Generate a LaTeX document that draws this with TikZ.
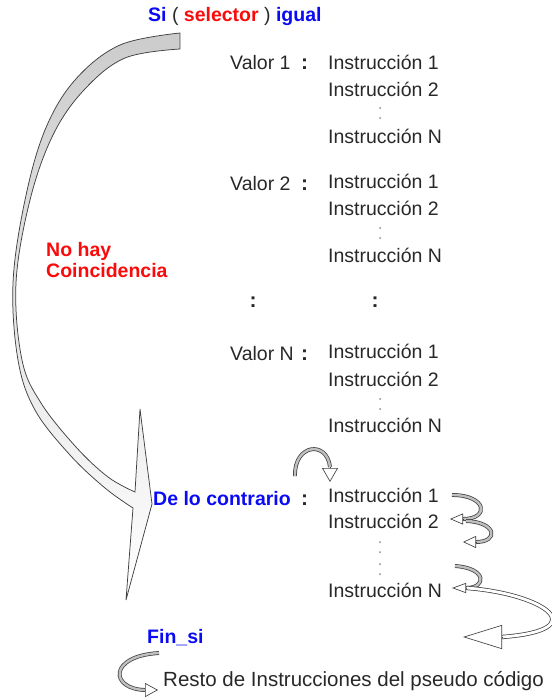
\documentclass[tikz,border=0pt]{standalone}
\usepackage{fontspec}
\setmainfont{Liberation Sans}
\usetikzlibrary{arrows.meta}
\definecolor{tblue}{RGB}{10,10,245}
\definecolor{tred}{RGB}{250,10,10}
\definecolor{ttxt}{RGB}{40,40,40}
\begin{document}
\begin{tikzpicture}[x=1pt,y=-1pt,
  txt/.style={inner sep=0pt, anchor=base west, text=ttxt, font=\fontsize{19.5}{22}\selectfont},
  btxt/.style={inner sep=0pt, anchor=base west, font=\fontsize{19.5}{22}\selectfont\bfseries},
  colon/.style={inner sep=0pt, anchor=base west, text=ttxt, font=\fontsize{21}{22}\selectfont\bfseries},
  bigcolon/.style={inner sep=0pt, text=ttxt, font=\fontsize{21}{22}\selectfont\bfseries},
  tdot/.style={circle, fill=gray!90, inner sep=0pt, minimum size=2pt},
  band/.style={draw=black!75, double=gray!50, line width=0.75pt, double distance=2.4pt},
  wband/.style={draw=black!75, double=white, line width=0.75pt, double distance=2.8pt},
  head/.style n args={2}{line width=0.65pt, draw=black!75, -{Triangle[length=#1, width=#2, fill=white]}},
  bigband/.style={draw=black!75, line width=0.75pt, top color=gray!40, middle color=white, bottom color=white}
]
\useasboundingbox (0,0) rectangle (551,698);

% big curved arrow
\path[bigband] plot[smooth, tension=0.6] coordinates {(180,33) (120,45) (75,80) (45,130) (25,200) (13,283) (18,360) (35,410) (70,455) (105,488) (133,508)}
  -- (126,600) -- (152,504) -- (140,409) --
  plot[smooth, tension=0.6] coordinates {(135,492) (108,477) (76,447) (41,403) (22,360) (16,283) (30,200) (53,135) (84,90) (125,58) (180,49)}
  -- cycle;

% title
\node[btxt, text=tblue] (si) at (148,22) {Si \textcolor{ttxt}{\mdseries (} \textcolor{tred}{selector} \textcolor{ttxt}{\mdseries )} igual};

% No hay coincidencia
\node[btxt, text=tred] (nh) at (46,256) {No hay};
\node[btxt, text=tred] (co) at (46,277) {Coincidencia};

% block 1
\node[txt] (v1) at (230,70) {Valor 1};
\node[colon] (c1) at (301,70) {:};
\node[txt] (a1) at (328,70) {Instrucción 1};
\node[txt] (a2) at (328,97) {Instrucción 2};
\node[tdot] (d11) at (380,108) {};
\node[tdot] (d12) at (380,118) {};
\node[txt] (an) at (328,143) {Instrucción N};

% block 2
\node[txt] (v2) at (230,190) {Valor 2};
\node[colon] (c2) at (301,190) {:};
\node[txt] (b1) at (328,188) {Instrucción 1};
\node[txt] (b2) at (328,215) {Instrucción 2};
\node[tdot] (d21) at (380,228) {};
\node[tdot] (d22) at (380,238) {};
\node[txt] (bn) at (328,262) {Instrucción N};

% continuation colons
\node[bigcolon] (k1) at (253,302) {:};
\node[bigcolon] (k2) at (375,302) {:};

% block 3
\node[txt] (v3) at (230,360) {Valor N};
\node[colon] (c3) at (301,360) {:};
\node[txt] (e1) at (328,358) {Instrucción 1};
\node[txt] (e2) at (328,386) {Instrucción 2};
\node[tdot] (d31) at (380,399) {};
\node[tdot] (d32) at (380,409) {};
\node[txt] (en) at (328,432) {Instrucción N};

% block 4
\node[btxt, text=tblue] (dc) at (153,505) {De lo contrario};
\node[colon] (c4) at (301,505) {:};
\node[txt] (f1) at (328,502) {Instrucción 1};
\node[txt] (f2) at (328,528) {Instrucción 2};
\node[tdot] (d41) at (380,542) {};
\node[tdot] (d42) at (380,552) {};
\node[tdot] (d43) at (380,564) {};
\node[tdot] (d44) at (380,574) {};
\node[txt] (fn) at (328,597) {Instrucción N};

% end
\node[btxt, text=tblue] (fin) at (147,643) {Fin\_si};
\node[txt, font=\fontsize{20.5}{22}\selectfont] (resto) at (163,686) {Resto de Instrucciones del pseudo código};

% small arrows
\coordinate (pA0) at (295,476); \coordinate (pA1) at (330,467); \coordinate (pA2) at (330,482);
\draw[band] (pA0) .. controls (294,444) and (327,440) .. (pA1);
\draw[head={14pt}{16pt}] (pA1) -- (pA2);

\coordinate (pB0) at (452,495); \coordinate (pB1) at (463,519); \coordinate (pB2) at (450,519);
\draw[band] (pB0) .. controls (487,495) and (490,519) .. (pB1);
\draw[head={13pt}{11pt}] (pB1) -- (pB2);

\coordinate (pC0) at (466,521); \coordinate (pC1) at (476,542); \coordinate (pC2) at (463,542);
\draw[band] (pC0) .. controls (497,522) and (499,542) .. (pC1);
\draw[head={13pt}{12pt}] (pC1) -- (pC2);

\coordinate (pD0) at (455,566); \coordinate (pD1) at (466,588); \coordinate (pD2) at (452,588);
\draw[band] (pD0) .. controls (487,568) and (487,588) .. (pD1);
\draw[head={14pt}{10pt}] (pD1) -- (pD2);

\coordinate (pE0) at (467,588); \coordinate (pE1) at (502,637); \coordinate (pE2) at (463,637);
\draw[wband] (pE0) .. controls (545,594) and (595,630) .. (pE1);
\draw[head={39pt}{24pt}] (pE1) -- (pE2);

\coordinate (pF0) at (159,653); \coordinate (pF1) at (145,690); \coordinate (pF2) at (158,690);
\draw[band] (pF0) .. controls (108,656) and (110,689) .. (pF1);
\draw[head={13pt}{14pt}] (pF1) -- (pF2);
\end{tikzpicture}
\end{document}
